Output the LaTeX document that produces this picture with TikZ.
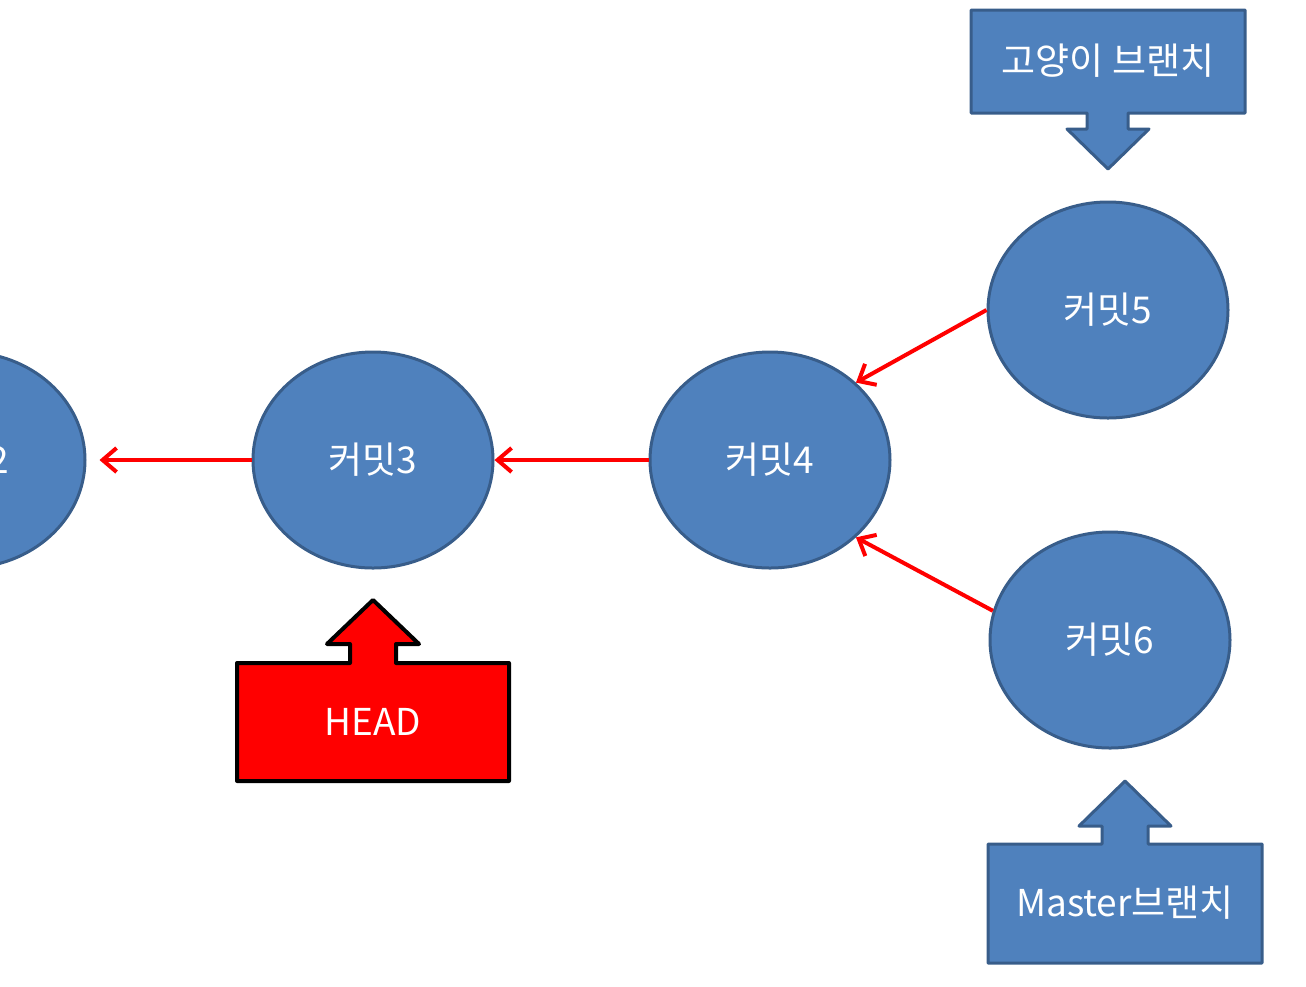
\documentclass[tikz,border=0pt]{standalone}
\usepackage{fontspec}
\setmainfont{Noto Sans CJK KR}
\usepackage{tikz}
\usetikzlibrary{shapes.geometric,arrows.meta}
\definecolor{commitblue}{HTML}{4F81BD}
\definecolor{commitline}{HTML}{385D8A}

\begin{document}
\begin{tikzpicture}[x=1pt,y=-1pt]
\tikzstyle{commit}=[ellipse,draw=commitline,fill=commitblue,line width=3pt,minimum width=240pt,minimum height=216pt,inner sep=0pt,text=white,font=\fontsize{37}{44}\selectfont]
\tikzstyle{parent}=[draw=red,line width=4pt,-{Straight Barb[length=14pt,width=24pt]}]
\tikzstyle{branch}=[draw=commitline,fill=commitblue,line width=3pt,line join=round]
\tikzstyle{tag}=[text=white,inner sep=0pt,font=\fontsize{37}{44}\selectfont]
\useasboundingbox (0,0) rectangle (1306,986);
\clip (0,0) rectangle (1306,986);
\node[commit] (c2) at (-35,460) {커밋2};
\node[commit] (c3) at (373,460) {커밋3};
\node[commit] (c4) at (770,460) {커밋4};
\node[commit] (c5) at (1108,310) {커밋5};
\node[commit] (c6) at (1110,640) {커밋6};
\draw[parent,shorten >=13pt] (c3) -- (c2);
\draw[parent] (c4) -- (c3);
\draw[parent] (c5.west) -- (c4.42);
\draw[parent] (c6.166) -- (c4.-42);
% branch pointers
\draw[branch] (971,10) -- (1245,10) -- (1245,113) -- (1128,113) -- (1128,129) -- (1149,129) -- (1108,169) -- (1067,129) -- (1087,129) -- (1087,113) -- (971,113) -- cycle;
\node[tag] (cat) at (1108,61) {고양이 브랜치};
\draw[branch] (988,844) -- (1102,844) -- (1102,826) -- (1079,826) -- (1125,781) -- (1171,826) -- (1148,826) -- (1148,844) -- (1262,844) -- (1262,963) -- (988,963) -- cycle;
\node[tag] (master) at (1125,903) {Master브랜치};
\draw[fill=red,draw=black,line width=4pt,line join=round] (237,663) -- (350,663) -- (350,644) -- (327,644) -- (373,600) -- (419,644) -- (396,644) -- (396,663) -- (509,663) -- (509,781) -- (237,781) -- cycle;
\node[tag] (head) at (373,722) {HEAD};
\end{tikzpicture}
\end{document}
